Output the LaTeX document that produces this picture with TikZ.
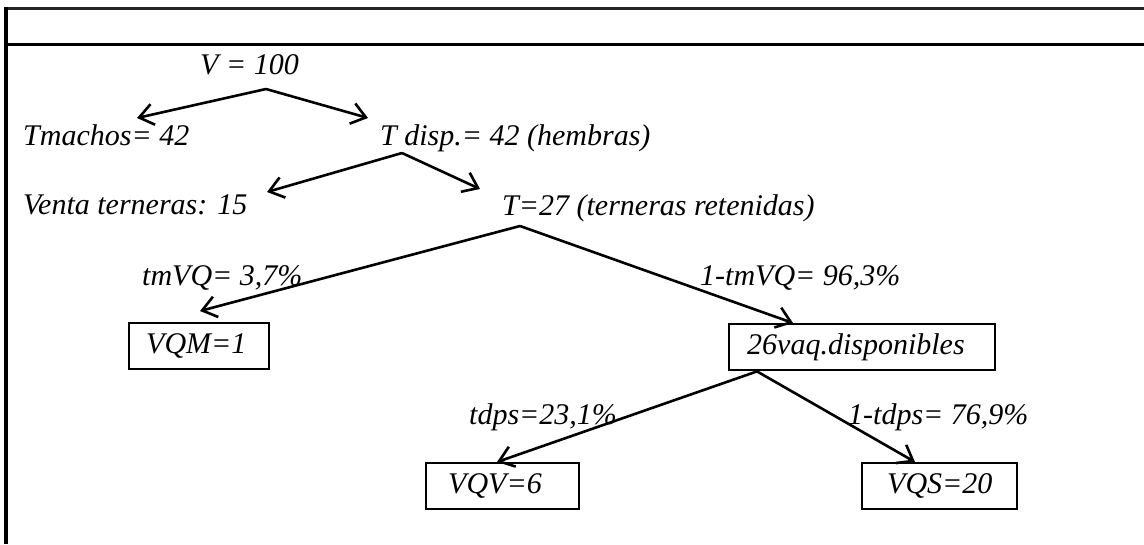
\documentclass[tikz,border=0pt]{standalone}
\usepackage{fontspec}
\setmainfont{Liberation Serif}
\usetikzlibrary{arrows.meta,calc}

\begin{document}
\begin{tikzpicture}[x=1pt,y=-1pt,
  txt/.style={font=\fontsize{30}{36}\selectfont\itshape},
  lbl/.style={txt, anchor=base west, inner sep=0pt},
  box/.style={txt, draw, line width=2.4pt, anchor=north west,
    minimum height=46pt, inner ysep=0pt, align=left},
  link/.style={line width=2.6pt,
    -{Straight Barb[length=14pt,width=21pt,line width=2.6pt]}},
  rule/.style={line width=3.2pt}]

\useasboundingbox (0,0) rectangle (1144,544);

% table frame
\draw[line width=2.6pt, black!85] (4.5,8.5) -- (1144,8.5);
\draw[rule] (4.5,44.5) -- (1144,44.5);
\draw[rule] (6,7.2) -- (6,544);

% labels
\node[lbl] (v)    at (200,74)  {V = 100};
\node[lbl] (tm)   at (23,145)  {Tmachos= 42};
\node[lbl] (td)   at (380,145) {T disp.= 42 (hembras)};
\node[lbl] (vt)   at (23,214)  {Venta terneras: 15};
\node[lbl] (t27)  at (502,215) {T=27 (terneras retenidas)};
\node[lbl] (p1)   at (142,285) {tmVQ= 3,7\%};
\node[lbl] (p2)   at (700,285) {1-tmVQ= 96,3\%};
\node[lbl] (p3)   at (469,424) {tdps=23,1\%};
\node[lbl] (p4)   at (848,424) {1-tdps= 76,9\%};

% boxed results
\node[box, inner xsep=17pt, text width=106pt] (vqm) at (128,322) {VQM=1};
\node[box, inner xsep=18pt, text width=230pt] (vaq) at (728,323) {26vaq.disponibles};
\node[box, inner xsep=22pt, text width=109pt] (vqv) at (425,462) {VQV=6};
\node[box, inner xsep=25pt, text width=105pt] (vqs) at (861,462) {VQS=20};

% branch points and arrow ends
\coordinate (a1) at (266,89);
\coordinate (e1) at (137,118);
\coordinate (e2) at (368,118);
\coordinate (a2) at (402,153);
\coordinate (e3) at (267,192);
\coordinate (e4) at (480,189);
\coordinate (a3) at (520,226);
\coordinate (e5) at ($(vqm.north west)+(72,-11)$);
\coordinate (e6) at ($(vaq.north west)+(65,0)$);
\coordinate (a4) at ($(vaq.south west)+(29,0)$);
\coordinate (e7) at ($(vqv.north west)+(72,0)$);
\coordinate (e8) at ($(vqs.north west)+(54,0)$);

% branches
\draw[link] (a1) -- (e1);
\draw[link] (a1) -- (e2);
\draw[link] (a2) -- (e3);
\draw[link] (a2) -- (e4);
\draw[link] (a3) -- (e5);
\draw[link] (a3) -- (e6);
\draw[link] (a4) -- (e7);
\draw[link] (a4) -- (e8);
\end{tikzpicture}
\end{document}
